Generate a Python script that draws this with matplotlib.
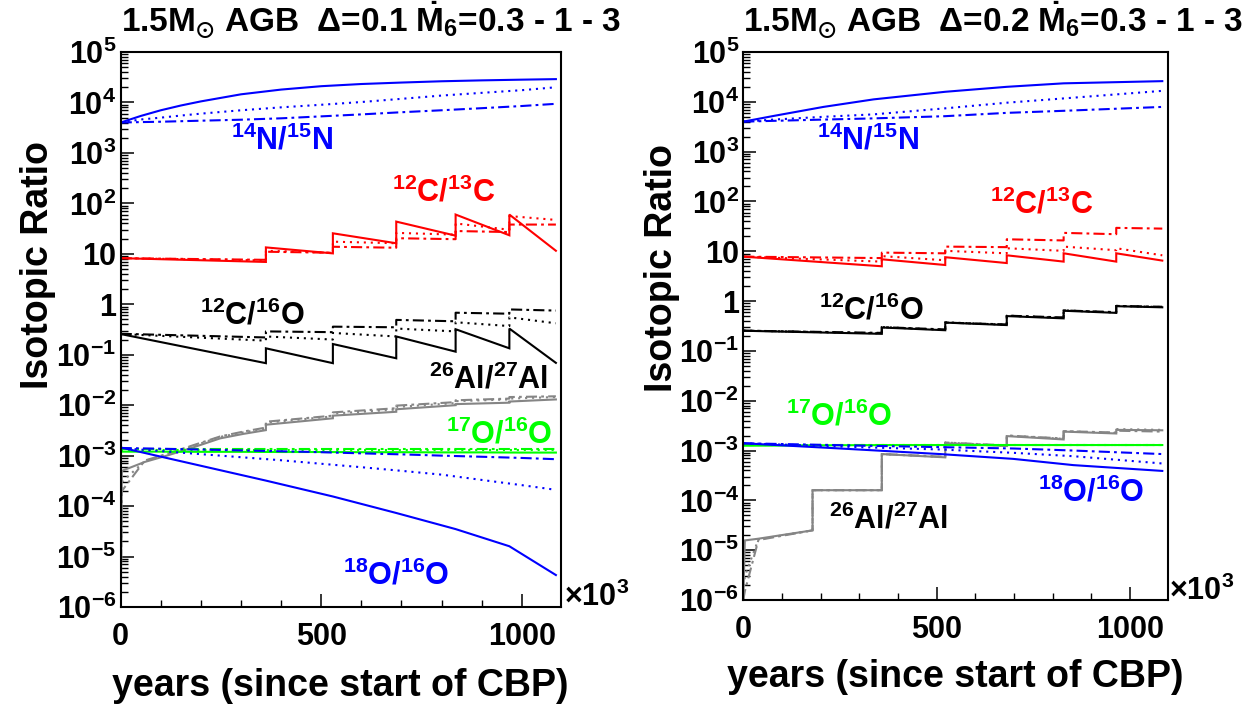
import matplotlib
matplotlib.use('Agg')
import matplotlib.pyplot as plt
from matplotlib.ticker import FixedLocator, FixedFormatter, MultipleLocator, LogLocator, NullFormatter

plt.rcParams['font.family'] = ['Liberation Sans', 'DejaVu Sans']
plt.rcParams['font.weight'] = 'bold'
plt.rcParams['mathtext.fontset'] = 'custom'
plt.rcParams['mathtext.rm'] = 'Liberation Sans:bold'
plt.rcParams['mathtext.it'] = 'Liberation Sans:bold'
plt.rcParams['mathtext.bf'] = 'Liberation Sans:bold'
plt.rcParams['mathtext.sf'] = 'Liberation Sans:bold'
plt.rcParams['mathtext.default'] = 'rm'
plt.rcParams['mathtext.fallback'] = 'stixsans'
plt.rcParams['lines.scale_dashes'] = False

# ---------------- data ----------------
TITLE_LEFT = r'1.5M$_{\odot}$ AGB  Δ=0.1 $\dot{M}_{6}$=0.3 - 1 - 3'
TITLE_RIGHT = r'1.5M$_{\odot}$ AGB  Δ=0.2 $\dot{M}_{6}$=0.3 - 1 - 3'
X_LABEL = 'years (since start of CBP)'
Y_LABEL = 'Isotopic Ratio'
X_TICKS = [0, 500, 1000]
X_TICK_LABELS = ['0', '500', '1000']
Y_TICKS = [1e-6, 1e-5, 1e-4, 1e-3, 1e-2, 1e-1, 1, 10, 1e2, 1e3, 1e4, 1e5]
Y_TICK_LABELS = [r'$10^{-6}$', r'$10^{-5}$', r'$10^{-4}$', r'$10^{-3}$', r'$10^{-2}$',
                 r'$10^{-1}$', '1', '10', r'$10^{2}$', r'$10^{3}$', r'$10^{4}$', r'$10^{5}$']
LBL_N = r'$^{14}$N/$^{15}$N'
LBL_C13 = r'$^{12}$C/$^{13}$C'
LBL_C16 = r'$^{12}$C/$^{16}$O'
LBL_AL = r'$^{26}$Al/$^{27}$Al'
LBL_O17 = r'$^{17}$O/$^{16}$O'
LBL_O18 = r'$^{18}$O/$^{16}$O'

# ---- left panel (Delta = 0.1) ----
L_X_SMOOTH = [0, 100, 200, 300, 400, 500, 600, 700, 800, 900, 1000, 1085]
L_X_N = [0, 50, 100, 150, 200, 300, 400, 500, 600, 700, 800, 900, 1000, 1085]
L_N_SOLID = [4000, 5400, 7000, 8700, 10500, 14500, 18000, 21000, 23200, 24800, 26300, 27400, 28300, 29000]
L_N_DOT = [4000, 4600, 5000, 5500, 6000, 7000, 8000, 9000, 10200, 11800, 13700, 15500, 17500, 20000]
L_N_DASH = [4000, 4080, 4150, 4250, 4350, 4550, 4850, 5300, 5800, 6400, 7000, 7700, 8500, 9400]

L_X_SAW = [0, 362, 362, 529, 529, 687, 687, 835, 835, 969, 969, 1085]
L_C13_SOLID = [8.2, 6.9, 13.4, 10.2, 25.5, 16.2, 43.5, 22.9, 60, 23.3, 60, 11.5]
L_C13_DOT = [8.2, 7.4, 11.5, 10.5, 17.4, 16.2, 26, 24, 40, 30, 56, 47]
L_C13_DASH = [8.2, 7.6, 11, 10.5, 13.8, 13.2, 20.4, 19.5, 28.3, 27, 38, 38]
L_C16_SOLID = [0.257, 0.068, 0.134, 0.068, 0.163, 0.085, 0.23, 0.115, 0.32, 0.134, 0.33, 0.069]
L_C16_DOT = [0.257, 0.19, 0.23, 0.2, 0.27, 0.23, 0.33, 0.29, 0.44, 0.37, 0.55, 0.42]
L_C16_DASH = [0.26, 0.22, 0.29, 0.28, 0.36, 0.35, 0.49, 0.46, 0.68, 0.65, 0.79, 0.75]

L_X_AL = [0, 3, 60, 115, 180, 248, 306, 362, 362, 529, 529, 687, 687, 835, 835, 969, 969, 1085]
L_AL_SOLID = [1e-6, 5e-4, 7.5e-4, 1.0e-3, 1.45e-3, 2.2e-3, 2.7e-3, 3.2e-3, 4.1e-3, 5.5e-3,
              6.2e-3, 7.4e-3, 8.3e-3, 1.0e-2, 1.05e-2, 1.12e-2, 1.18e-2, 1.3e-2]
L_AL_DOT = [1e-6, 3e-4, 7.8e-4, 1.05e-3, 1.55e-3, 2.35e-3, 2.9e-3, 3.4e-3, 4.5e-3, 6.0e-3,
            6.8e-3, 8.2e-3, 9.2e-3, 1.1e-2, 1.2e-2, 1.3e-2, 1.35e-2, 1.45e-2]
L_AL_DASH = [1e-6, 2e-4, 8e-4, 1.08e-3, 1.6e-3, 2.4e-3, 3.0e-3, 3.6e-3, 4.7e-3, 6.2e-3,
             7.2e-3, 8.7e-3, 9.8e-3, 1.15e-2, 1.25e-2, 1.35e-2, 1.45e-2, 1.5e-2]

L_O17_SOLID = [1.2e-3, 1.2e-3, 1.19e-3, 1.19e-3, 1.18e-3, 1.18e-3, 1.17e-3, 1.17e-3, 1.16e-3, 1.16e-3, 1.15e-3, 1.15e-3]
L_O17_DOT = [1.3e-3, 1.3e-3, 1.3e-3, 1.3e-3, 1.3e-3, 1.3e-3, 1.3e-3, 1.3e-3, 1.3e-3, 1.3e-3, 1.3e-3, 1.3e-3]
L_O17_DASH = [1.33e-3, 1.33e-3, 1.33e-3, 1.33e-3, 1.33e-3, 1.33e-3, 1.33e-3, 1.33e-3, 1.33e-3, 1.33e-3, 1.33e-3, 1.33e-3]

L_X_O18 = [0, 362, 529, 687, 835, 969, 1085]
L_O18_SOLID = [1.45e-3, 3.2e-4, 1.55e-4, 7.3e-5, 3.5e-5, 1.6e-5, 4.3e-6]
L_O18_DOT = [1.41e-3, 1.23e-3, 1.07e-3, 9.3e-4, 8.1e-4, 6.9e-4, 5.9e-4, 5.0e-4, 4.2e-4, 3.3e-4, 2.6e-4, 2.1e-4]
L_O18_DASH = [1.42e-3, 1.37e-3, 1.32e-3, 1.27e-3, 1.22e-3, 1.17e-3, 1.11e-3, 1.06e-3, 1.0e-3, 9.5e-4, 9.0e-4, 8.5e-4]

# ---- right panel (Delta = 0.2) ----
R_X_N = [0, 78, 207, 337, 522, 681, 828, 1083]
R_N_SOLID = [4000, 5200, 7900, 11200, 15900, 20000, 23500, 26000]
R_N_DOT = [4000, 4400, 5000, 5600, 7400, 9600, 11700, 16600]
R_N_DASH = [4000, 4150, 4400, 4650, 5150, 6000, 6600, 7900]

R_X_SAW = [0, 358, 358, 522, 522, 681, 681, 828, 828, 964, 964, 1083]
R_C13_SOLID = [7.8, 5.0, 6.9, 5.3, 7.6, 5.8, 8.3, 6.2, 9.1, 6.2, 9.1, 6.5]
R_C13_DOT = [7.8, 6.2, 8.0, 6.6, 10.2, 9.1, 11.5, 10.2, 12.4, 10.5, 11.5, 8.3]
R_C13_DASH = [7.8, 7.3, 9.4, 9.1, 12.4, 12.1, 17.4, 16.5, 23.4, 22, 29.5, 28.5]
R_C16_SOLID = [0.254, 0.22, 0.295, 0.26, 0.37, 0.33, 0.50, 0.45, 0.64, 0.58, 0.79, 0.75]
R_C16_DOT = [0.256, 0.225, 0.3, 0.265, 0.375, 0.335, 0.51, 0.46, 0.65, 0.59, 0.80, 0.76]
R_C16_DASH = [0.255, 0.23, 0.3, 0.27, 0.37, 0.34, 0.51, 0.47, 0.65, 0.6, 0.8, 0.77]

R_X_AL = [0, 4, 39, 179, 179, 358, 358, 522, 522, 681, 681, 828, 828, 964, 964, 1083]
R_AL_SOLID = [1e-6, 1.57e-5, 1.7e-5, 2.5e-5, 1.6e-4, 1.6e-4, 8.5e-4, 7.3e-4, 1.4e-3, 1.23e-3,
              1.95e-3, 1.67e-3, 2.4e-3, 2.2e-3, 2.6e-3, 2.55e-3]
R_AL_DOT = [1e-6, 3e-6, 1.65e-5, 2.5e-5, 1.6e-4, 1.6e-4, 8.5e-4, 7.4e-4, 1.45e-3, 1.25e-3,
            2.0e-3, 1.72e-3, 2.45e-3, 2.25e-3, 2.7e-3, 2.6e-3]
R_AL_DASH = [1e-6, 1.5e-6, 1.6e-5, 2.5e-5, 1.6e-4, 1.6e-4, 8.5e-4, 7.5e-4, 1.45e-3, 1.27e-3,
             2.0e-3, 1.75e-3, 2.45e-3, 2.3e-3, 2.5e-3, 2.4e-3]

R_X_O = [0, 250, 509, 698, 853, 1083]
R_O17_SOLID = [1.25e-3, 1.28e-3, 1.29e-3, 1.29e-3, 1.29e-3, 1.29e-3]
R_O17_DOT = [1.3e-3, 1.3e-3, 1.3e-3, 1.3e-3, 1.3e-3, 1.3e-3]
R_O17_DASH = [1.3e-3, 1.3e-3, 1.3e-3, 1.3e-3, 1.3e-3, 1.3e-3]
R_O18_SOLID = [1.4e-3, 1.1e-3, 8.5e-4, 6.8e-4, 5.1e-4, 3.9e-4]
R_O18_DOT = [1.4e-3, 1.2e-3, 1.05e-3, 9e-4, 7.7e-4, 5.5e-4]
R_O18_DASH = [1.4e-3, 1.28e-3, 1.17e-3, 1.1e-3, 1.0e-3, 8.5e-4]

# ---------------- style ----------------
BLUE, RED, BLACK, GRAY, GREEN = '#0000ff', '#ff0000', '#000000', '#858585', '#00ff00'
SOLID = '-'
DOT = (0, (1.5, 3.5))
DASH = (0, (8, 3, 2, 3))
LW = 1.5

W, H = 1258, 711
fig = plt.figure(figsize=(W / 100, H / 100), dpi=100)

def px_axes(l, t, r, b):
    return fig.add_axes([l / W, 1 - b / H, (r - l) / W, (b - t) / H])

axL = px_axes(120.7, 52, 560.7, 607)
axR = px_axes(743.3, 52, 1167.7, 600)

def style_axes(ax):
    ax.set_yscale('log')
    ax.set_xlim(0, 1097)
    ax.set_ylim(1e-6, 1e5)
    ax.yaxis.set_major_locator(FixedLocator(Y_TICKS))
    ax.yaxis.set_major_formatter(FixedFormatter(Y_TICK_LABELS))
    ax.yaxis.set_minor_locator(LogLocator(base=10, subs=range(2, 10), numticks=30))
    ax.yaxis.set_minor_formatter(NullFormatter())
    ax.xaxis.set_major_locator(FixedLocator(X_TICKS))
    ax.xaxis.set_major_formatter(FixedFormatter(X_TICK_LABELS))
    ax.xaxis.set_minor_locator(MultipleLocator(100))
    ax.tick_params(which='both', direction='in', top=False, right=False, color='black')
    ax.tick_params(which='major', length=9.4, width=1.1, labelsize=22)
    ax.tick_params(which='minor', length=5, width=1.0)
    ax.tick_params(axis='y', which='major', pad=3)
    ax.tick_params(axis='x', which='major', pad=10.5)
    for s in ax.spines.values():
        s.set_linewidth(1.5)
        s.set_color('black')

def triple(ax, x, ys, color):
    for y, ls in zip(ys, [SOLID, DOT, DASH]):
        ax.plot(x, y, color=color, lw=LW, linestyle=ls, solid_joinstyle='miter')

style_axes(axL)
style_axes(axR)

# left panel curves
triple(axL, L_X_AL, [L_AL_SOLID, L_AL_DOT, L_AL_DASH], GRAY)
triple(axL, L_X_SMOOTH, [L_O17_SOLID, L_O17_DOT, L_O17_DASH], GREEN)
axL.plot(L_X_O18, L_O18_SOLID, color=BLUE, lw=LW, linestyle=SOLID)
axL.plot(L_X_SMOOTH, L_O18_DOT, color=BLUE, lw=LW, linestyle=DOT)
axL.plot(L_X_SMOOTH, L_O18_DASH, color=BLUE, lw=LW, linestyle=DASH)
triple(axL, L_X_N, [L_N_SOLID, L_N_DOT, L_N_DASH], BLUE)
triple(axL, L_X_SAW, [L_C13_SOLID, L_C13_DOT, L_C13_DASH], RED)
triple(axL, L_X_SAW, [L_C16_SOLID, L_C16_DOT, L_C16_DASH], BLACK)

# right panel curves
triple(axR, R_X_AL, [R_AL_SOLID, R_AL_DOT, R_AL_DASH], GRAY)
triple(axR, R_X_O, [R_O17_SOLID, R_O17_DOT, R_O17_DASH], GREEN)
triple(axR, R_X_O, [R_O18_SOLID, R_O18_DOT, R_O18_DASH], BLUE)
triple(axR, R_X_N, [R_N_SOLID, R_N_DOT, R_N_DASH], BLUE)
triple(axR, R_X_SAW, [R_C13_SOLID, R_C13_DOT, R_C13_DASH], RED)
triple(axR, R_X_SAW, [R_C16_SOLID, R_C16_DOT, R_C16_DASH], BLACK)

LFS = 22
def lab(ax, fx, fy, s, color):
    ax.text(fx, fy, s, color=color, fontsize=LFS, ha='center', va='center',
            transform=ax.transAxes)

lab(axL, 0.366, 0.840, LBL_N, BLUE)
lab(axL, 0.733, 0.746, LBL_C13, RED)
lab(axL, 0.300, 0.524, LBL_C16, BLACK)
lab(axL, 0.835, 0.409, LBL_AL, BLACK)
lab(axL, 0.860, 0.310, LBL_O17, GREEN)
lab(axL, 0.626, 0.056, LBL_O18, BLUE)

lab(axR, 0.293, 0.838, LBL_N, BLUE)
lab(axR, 0.703, 0.721, LBL_C13, RED)
lab(axR, 0.301, 0.527, LBL_C16, BLACK)
lab(axR, 0.2255, 0.334, LBL_O17, GREEN)
lab(axR, 0.821, 0.195, LBL_O18, BLUE)
lab(axR, 0.341, 0.146, LBL_AL, BLACK)

# titles
fig.text(120.7 / W, 1 - 32 / H, TITLE_LEFT, fontsize=24, ha='left', va='baseline')
fig.text(743.3 / W, 1 - 32 / H, TITLE_RIGHT, fontsize=24, ha='left', va='baseline')

# x labels
fig.text(340.7 / W, 1 - 686 / H, X_LABEL, fontsize=27, ha='center', va='center')
fig.text(955.5 / W, 1 - 677 / H, X_LABEL, fontsize=27, ha='center', va='center')

# y labels
fig.text(38 / W, 1 - 265 / H, Y_LABEL, fontsize=27, ha='center', va='center', rotation=90)
fig.text(662 / W, 1 - 268 / H, Y_LABEL, fontsize=27, ha='center', va='center', rotation=90)

# x10^3 multipliers
fig.text(564 / W, 1 - 606 / H, r'$\times10^{3}$', fontsize=22, ha='left', va='baseline')
fig.text(1169 / W, 1 - 600 / H, r'$\times10^{3}$', fontsize=22, ha='left', va='baseline')

fig.savefig('out.png', dpi=100)
